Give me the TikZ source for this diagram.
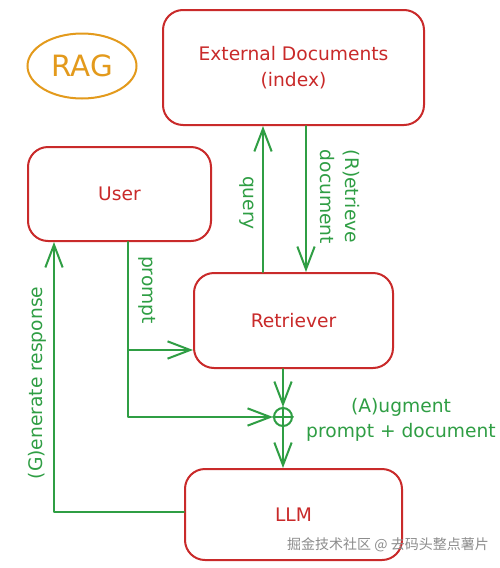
\documentclass[tikz,border=0pt]{standalone}
\usepackage{fontspec}
\setmainfont{DejaVu Sans}
\newfontfamily\cjkfont{Noto Sans CJK SC}
\usetikzlibrary{arrows.meta,shapes.geometric}
\definecolor{boxred}{HTML}{C92A2A}
\definecolor{flowgreen}{HTML}{2F9E44}
\definecolor{ragorange}{HTML}{E39A1C}
\begin{document}
\begin{tikzpicture}[x=0.75pt,y=-0.75pt,
  box/.style={draw=boxred, line width=1.5pt, rounded corners=15pt, text=boxred,
    font=\fontsize{14}{19}\selectfont, align=center, inner sep=0pt},
  flow/.style={draw=flowgreen, line width=1.5pt, line cap=round, line join=round,
    -{Straight Barb[length=17pt,width=13pt]}},
  wire/.style={draw=flowgreen, line width=1.5pt, line cap=round},
  lbl/.style={text=flowgreen, font=\fontsize{14}{19}\selectfont, inner sep=0pt}
]
\useasboundingbox[fill=white] (0,0) rectangle (500,568);

% title ellipse
\node[ellipse, draw=ragorange, line width=1.5pt, text=ragorange,
  minimum width=109*0.75pt, minimum height=65*0.75pt, inner sep=0pt,
  font=\fontsize{22}{26}\selectfont] (rag) at (82,66) {RAG};

% boxes
\node[box, minimum width=261*0.75pt, minimum height=115*0.75pt] (ext) at (293.5,67.5) {External Documents\\(index)};
\node[box, minimum width=183*0.75pt, minimum height=94*0.75pt] (user) at (119.5,194) {User};
\node[box, minimum width=199*0.75pt, minimum height=95*0.75pt] (retr) at (293.5,320.5) {Retriever};
\node[box, minimum width=217*0.75pt, minimum height=91*0.75pt] (llm) at (293.5,514.5) {LLM};

% junction
\node[circle, draw=flowgreen, line width=1.5pt, minimum size=18*0.75pt, inner sep=0pt] (plus) at (283,417) {};
\draw[wire] (plus.north) -- (plus.south);
\draw[wire] (plus.west) -- (plus.east);

% helper coordinates
\coordinate (qx) at (263,0);
\coordinate (rx) at (306,0);
\coordinate (px) at (128,0);
\coordinate (pa) at (0,350);
\coordinate (gx) at (54,0);
\coordinate (gy) at (0,512);

% connectors
\draw[flow] (retr.north -| qx) -- (ext.south -| qx);
\draw[flow] (ext.south -| rx) -- (retr.north -| rx);
\draw[flow] (user.south -| px) |- (retr.west |- pa);
\draw[flow] (user.south -| px) |- (plus.west);
\draw[flow] (retr.south -| plus) -- (plus.north);
\draw[flow] (plus.south) -- (llm.north -| plus);
\draw[flow] (llm.west |- gy) -| (user.south -| gx);

% labels
\node[lbl, rotate=-90] (lq) at (247,203) {query};
\node[lbl, rotate=-90, align=left] (lr) at (340,197) {(R)etrieve\\document};
\node[lbl, rotate=-90] (lp) at (147,290) {prompt};
\node[lbl, rotate=90] (lg) at (37,383) {(G)enerate response};
\node[lbl, align=center] (la) at (401,420) {(A)ugment\\prompt + document};

% watermark
\node[text=black!45, font=\cjkfont\fontsize{10.5}{12}\selectfont, inner sep=0pt] (wm) at (388,545) {掘金技术社区 @ 去码头整点薯片};
\end{tikzpicture}
\end{document}
